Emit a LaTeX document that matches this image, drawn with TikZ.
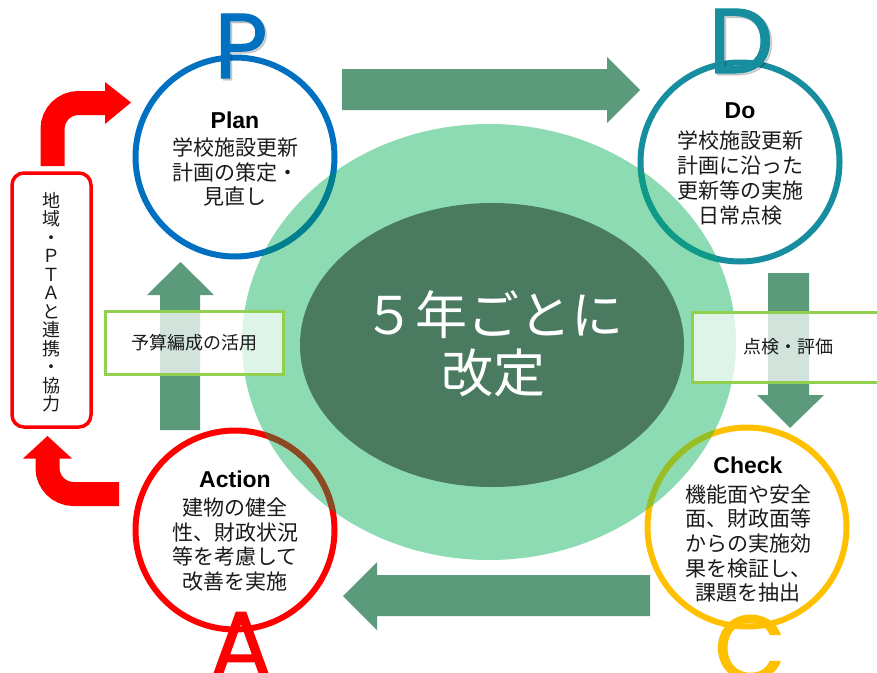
\documentclass[tikz,border=0pt]{standalone}
\usepackage{fontspec}
\setmainfont{Noto Sans CJK JP}
\newfontfamily\latb{Liberation Sans}
\newfontfamily\letf{Poppins}[FakeBold=1.2]
\definecolor{pblue}{HTML}{0070C0}
\definecolor{dteal}{HTML}{168E9F}
\definecolor{cyellow}{HTML}{FFC000}
\definecolor{ared}{HTML}{FF0000}
\definecolor{pblueg}{HTML}{00808C}
\definecolor{dtealg}{HTML}{0F9A87}
\definecolor{cyellowg}{HTML}{94BF28}
\definecolor{aredg}{HTML}{8B4B22}
\definecolor{lgreen}{HTML}{8DDBB3}
\definecolor{dgreen}{HTML}{4A7B61}
\definecolor{agreen}{HTML}{5B9B7C}
\definecolor{boxgreen}{HTML}{92D050}
\definecolor{txt}{HTML}{1A1A1A}
\begin{document}
\begin{tikzpicture}[x=1pt,y=-1pt,
  ring/.style={circle, line width=6pt, minimum size=199pt, inner sep=0pt},
  jtext/.style={font=\fontsize{21}{24.7}\selectfont, align=center, text=txt, inner sep=0pt},
  ttl/.style={font=\latb\bfseries\fontsize{23}{26}\selectfont, anchor=base, inner sep=0pt, text=black},
  bigl/.style={font=\letf\fontsize{92}{92}\selectfont, anchor=base, inner sep=0pt},
  garrow/.style={fill=agreen},
  lbl/.style={draw=boxgreen, line width=3pt, fill=white, fill opacity=0.72, text opacity=1,
              font=\fontsize{18}{20}\selectfont, text=txt, inner sep=0pt},
  redarrow/.style={draw=ared, line width=24pt, rounded corners=26pt},
]
\useasboundingbox (0,0) rectangle (877,672);

% central ellipses
\fill[lgreen] (489,342) ellipse [x radius=247, y radius=218];
\fill[dgreen] (492,345) ellipse [x radius=192, y radius=142];

% circles
\node[ring, draw=pblue] (plan) at (235,157) {};
\node[ring, draw=dteal] (do) at (740,162) {};
\node[ring, draw=cyellow] (check) at (747,527) {};
\node[ring, draw=ared] (act) at (235,530) {};

\begin{scope}
\clip (489,342) ellipse [x radius=247, y radius=218];
\draw[line width=6pt, pblueg] (plan.center) circle [radius=99.5];
\draw[line width=6pt, dtealg] (do.center) circle [radius=99.5];
\draw[line width=6pt, cyellowg] (check.center) circle [radius=99.5];
\draw[line width=6pt, aredg] (act.center) circle [radius=99.5];
\end{scope}

% big letters with faint shadow
\node[bigl, text=black, opacity=0.15] at (243,80) {P};
\node[bigl, text=pblue] (P) at (241,78) {P};
\node[bigl, text=black, opacity=0.15] at (743,75) {D};
\node[bigl, text=dteal] (D) at (741,73) {D};
\node[bigl, text=cyellow] (C) at (750,680) {C};
\node[bigl, text=ared] (A) at (241,676) {A};

% green block arrows
\fill[garrow] (342,69) -- (607,69) -- (607,57) -- (640,90) -- (607,123) -- (607,110) -- (342,110) -- cycle;
\fill[garrow] (650,575) -- (377,575) -- (377,562) -- (343,596) -- (377,630) -- (377,616) -- (650,616) -- cycle;
\fill[garrow] (160,430) -- (160,295) -- (147,295) -- (180.5,262) -- (214,295) -- (200,295) -- (200,430) -- cycle;
\fill[garrow] (768,273) -- (768,395) -- (757,395) -- (790,428) -- (824,395) -- (809,395) -- (809,273) -- cycle;

% label boxes
\node[lbl, minimum width=178pt, minimum height=63pt] (budget) at (194,342.5) {予算編成の活用};
\node[lbl, minimum width=196pt, minimum height=70pt, text width=196pt, align=left] (eval) at (790,347) {\hspace*{51pt}点検・評価};

% red box and bent arrows
\node[draw=ared, line width=3.5pt, rounded corners=12pt, fill=white,
      minimum width=79pt, minimum height=254pt, inner sep=0pt] (comm) at (51.5,300) {};
\node[font=\fontsize{18}{18.5}\selectfont, align=center, text=txt, inner sep=0pt] (commtxt) at (51.5,302)
  {地\\域\\・\\Ｐ\\Ｔ\\Ａ\\と\\連\\携\\・\\協\\力};

\coordinate (t1) at (52.5,166);
\coordinate (t2) at (52.5,103);
\coordinate (t3) at (106,103);
\draw[redarrow] (t1) -- (t2) -- (t3);
\fill[ared] (105,82) -- (131,102.5) -- (105,124) -- cycle;

\coordinate (b1) at (119,494);
\coordinate (b2) at (47.5,494);
\coordinate (b3) at (47.5,457);
\draw[redarrow] (b1) -- (b2) -- (b3);
\fill[ared] (23,458.5) -- (47.5,436) -- (72,458.5) -- cycle;

% circle texts
\node[ttl] (plant) at (235,128) {Plan};
\node[jtext] (planx) at (235,172) {学校施設更新\\計画の策定・\\見直し};

\node[ttl] (dot) at (740,118) {Do};
\node[jtext] (dox) at (740,178) {学校施設更新\\計画に沿った\\更新等の実施\\日常点検};

\node[ttl] (checkt) at (748,473) {Check};
\node[jtext] (checkx) at (748,543.5) {機能面や安全\\面、財政面等\\からの実施効\\果を検証し、\\課題を抽出};

\node[ttl] (actt) at (235,487) {Action};
\node[jtext] (actx) at (235,544.5) {建物の健全\\性、財政状況\\等を考慮して\\改善を実施};

% centre text
\node[font=\fontsize{52}{58}\selectfont, text=white, align=center, inner sep=0pt] (five) at (493,344) {５年ごとに\\改定};
\end{tikzpicture}
\end{document}
